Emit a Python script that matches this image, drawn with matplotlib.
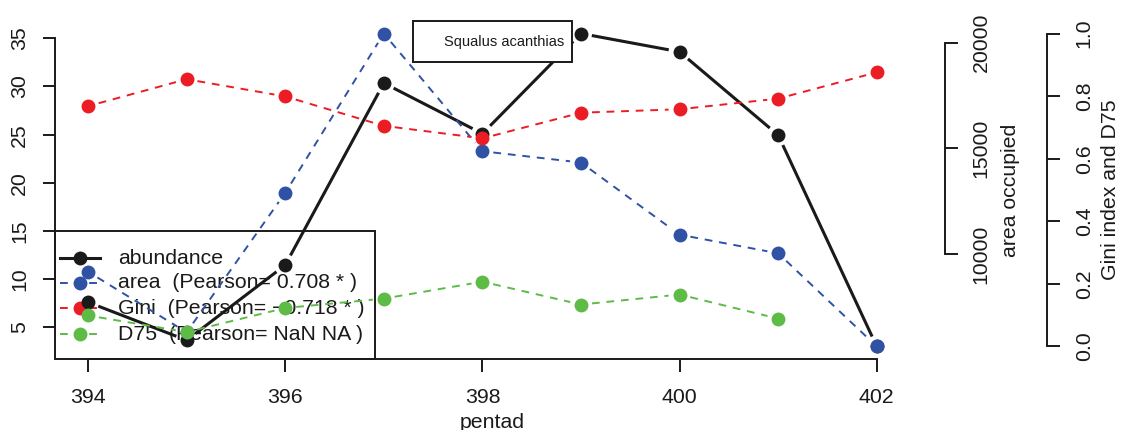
import numpy as np
import matplotlib.pyplot as plt
from matplotlib.lines import Line2D
from matplotlib.patches import Rectangle

plt.rcParams['font.family'] = ['Liberation Sans', 'DejaVu Sans']

pentad = [394, 395, 396, 397, 398, 399, 400, 401, 402]
abundance = [7.6, 3.65, 11.45, 30.35, 25.1, 35.5, 33.6, 24.95, 3.0]
area = [9165, 6300, 12890, 20425, 14860, 14325, 10915, 10035, 5630]
gini = [0.768, 0.854, 0.799, 0.705, 0.665, 0.747, 0.758, 0.792, 0.876]
d75 = [0.099, 0.046, 0.123, 0.153, 0.207, 0.134, 0.166, 0.089, np.nan]

species = 'Squalus acanthias'
legend_labels = ['abundance',
                 'area  (Pearson= 0.708 * )',
                 'Gini  (Pearson= \u22120.718 * )',
                 'D75  (Pearson= NaN NA )']

BLACK = '#1a1a1a'
BLUE = '#2f52a4'
RED = '#ec1c24'
GREEN = '#5dbb46'
FS = 15.3
MS = 10


def rng(v):
    v = np.asarray(v, float)
    lo, hi = np.nanmin(v), np.nanmax(v)
    pad = 0.04 * (hi - lo)
    return lo - pad, hi + pad


def type_b(ax, x, y, color, ls, lw, gap=11):
    # lines broken around the points, like R's type="b"
    x = np.asarray(x, float)
    y = np.asarray(y, float)
    pts = ax.transData.transform(np.column_stack([x, y]))
    inv = ax.transData.inverted()
    for i in range(len(x) - 1):
        p0, p1 = pts[i], pts[i + 1]
        if np.isnan(p0).any() or np.isnan(p1).any():
            continue
        d = p1 - p0
        L = np.hypot(*d)
        if L <= 2 * gap:
            continue
        u = d / L
        a = inv.transform(p0 + u * gap)
        b = inv.transform(p1 - u * gap)
        ax.plot([a[0], b[0]], [a[1], b[1]], color=color, ls=ls, lw=lw,
                solid_capstyle='butt', dash_capstyle='butt')
    ax.plot(x, y, 'o', color=color, ms=MS, mec='none')


fig = plt.figure(figsize=(11.27, 4.3), dpi=100)
W, H = 1127, 430
x0, x1, top, bot = 55, 930, 21, 359
ax = fig.add_axes([x0 / W, 1 - bot / H, (x1 - x0) / W, (bot - top) / H])
ax.patch.set_visible(False)
ax.set_xlim(393.665, 402.54)
ax.set_ylim(*rng(abundance))

ax2 = ax.twinx()
ax2.set_ylim(*rng(area))
ax3 = ax.twinx()
ax3.set_ylim(-0.04, 1.04)

dash = (0, (4, 3.5))
styles = [(BLACK, '-', 2.2), (BLUE, dash, 1.4), (RED, dash, 1.4), (GREEN, dash, 1.4)]
type_b(ax, pentad, abundance, *styles[0])
type_b(ax2, pentad, area, *styles[1])
type_b(ax3, pentad, gini, *styles[2])
type_b(ax3, pentad, d75, *styles[3])

# axes, R style
for a in (ax, ax2, ax3):
    for s in a.spines.values():
        s.set_visible(False)
        s.set_linewidth(1.4)
        s.set_color(BLACK)

ax.spines['bottom'].set_visible(True)
ax.spines['bottom'].set_bounds(394, 402)
ax.spines['left'].set_visible(True)
ax.spines['left'].set_bounds(5, 35)
ax.set_xticks([394, 396, 398, 400, 402])
ax.set_yticks([5, 10, 15, 20, 25, 30, 35])
ax.tick_params(axis='x', length=9, width=1.4, pad=12, labelsize=FS, colors=BLACK)
ax.tick_params(axis='y', length=8.5, width=1.4, pad=10, labelsize=FS, colors=BLACK)
plt.setp(ax.get_yticklabels(), rotation=90, va='center', ha='right')

ax2.spines['right'].set_visible(True)
ax2.spines['right'].set_position(('axes', (945 - x0) / (x1 - x0)))
ax2.spines['right'].set_bounds(10000, 20000)
ax2.set_yticks([10000, 15000, 20000])
ax2.tick_params(axis='y', length=9, width=1.4, pad=10, labelsize=FS, colors=BLACK)
plt.setp(ax2.get_yticklabels(), rotation=90, va='center', ha='left')

ax3.spines['right'].set_visible(True)
ax3.spines['right'].set_position(('axes', (1047 - x0) / (x1 - x0)))
ax3.spines['right'].set_bounds(0, 1)
ax3.set_yticks([0, 0.2, 0.4, 0.6, 0.8, 1.0])
ax3.set_yticklabels(['0.0', '0.2', '0.4', '0.6', '0.8', '1.0'])
ax3.tick_params(axis='y', length=9, width=1.4, pad=11, labelsize=FS, colors=BLACK)
plt.setp(ax3.get_yticklabels(), rotation=90, va='center', ha='left')

fig.text(1010 / W, 1 - 190 / H, 'area occupied', rotation=90,
         ha='center', va='center', fontsize=FS, color=BLACK)
fig.text(1110 / W, 1 - 190 / H, 'Gini index and D75', rotation=90,
         ha='center', va='center', fontsize=FS, color=BLACK)
fig.text(492 / W, 1 - 428 / H, 'pentad', ha='center', va='baseline',
         fontsize=FS, color=BLACK)

# legend box, drawn under the data lines
tf = fig.transFigure
ax.add_patch(Rectangle((55 / W, 1 - 359 / H), 320 / W, 128 / H, transform=tf,
                       facecolor='none', edgecolor=BLACK, lw=1.4,
                       clip_on=False, zorder=1))
for (col, ls, lw), lab, yy in zip(styles, legend_labels, [258, 283, 308, 334]):
    yf = 1 - yy / H
    ax.add_line(Line2D([60 / W, 100 / W], [yf, yf], transform=tf, color=col,
                       ls=ls, lw=lw, clip_on=False, zorder=1))
    ax.add_line(Line2D([80 / W], [yf], transform=tf, color=col, marker='o',
                       ms=MS, mec='none', ls='none', clip_on=False, zorder=1))
    ax.text(118 / W, yf, lab, transform=tf, ha='left', va='center',
            fontsize=FS, color=BLACK, zorder=1)

# species box
bx0, bx1, by0, by1 = 413, 572, 21, 62
fig.patches.append(Rectangle((bx0 / W, 1 - by1 / H), (bx1 - bx0) / W, (by1 - by0) / H,
                             transform=tf, facecolor='white',
                             edgecolor=BLACK, lw=1.4, zorder=5))
fig.text(564 / W, 1 - 42 / H, species, ha='right', va='center',
         fontsize=10.5, color=BLACK, zorder=6)

fig.savefig('out.png', dpi=100)
